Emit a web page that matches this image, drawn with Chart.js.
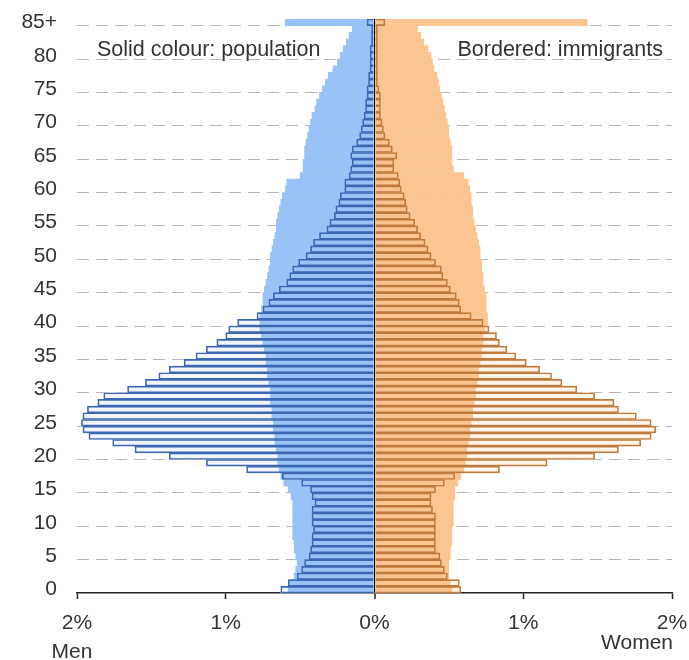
<!DOCTYPE html>
<html>
<head>
<meta charset="utf-8">
<script src="https://cdn.jsdelivr.net/npm/chart.js@4.4.1/dist/chart.umd.min.js"></script>
<style>
  body { margin: 0; background: #fff; }
  #wrap { width: 689px; height: 660px; }
</style>
</head>
<body>
<div id="wrap"><canvas id="myChart" width="689" height="660"></canvas></div>
<script>
// ages 0..84 then 85+
const ages = Array.from({ length: 85 }, (_, i) => String(i)).concat(['85+']);

// share of total, in %, index = age
const menPopulation = [
    0.58, 0.57, 0.54, 0.53, 0.52, 0.53, 0.54, 0.54, 0.55, 0.55,
    0.55, 0.55, 0.55, 0.55, 0.56, 0.58, 0.61, 0.63, 0.64, 0.65,
    0.65, 0.66, 0.67, 0.67, 0.68, 0.68, 0.69, 0.69, 0.70, 0.70,
    0.70, 0.71, 0.72, 0.72, 0.73, 0.73, 0.74, 0.75, 0.76, 0.77,
    0.77, 0.77, 0.76, 0.75, 0.75, 0.74, 0.73, 0.72, 0.71, 0.70,
    0.70, 0.69, 0.68, 0.67, 0.66, 0.66, 0.65, 0.64, 0.63, 0.62,
    0.60, 0.59, 0.50, 0.48, 0.48, 0.47, 0.47, 0.46, 0.45, 0.44,
    0.43, 0.42, 0.40, 0.39, 0.37, 0.35, 0.33, 0.31, 0.28, 0.25,
    0.23, 0.21, 0.19, 0.17, 0.15, 0.60
];
const menImmigrants = [
    0.63, 0.58, 0.52, 0.49, 0.47, 0.44, 0.43, 0.42, 0.42, 0.41,
    0.42, 0.42, 0.42, 0.40, 0.42, 0.43, 0.49, 0.62, 0.86, 1.13,
    1.38, 1.61, 1.76, 1.92, 1.96, 1.97, 1.96, 1.93, 1.86, 1.82,
    1.66, 1.54, 1.45, 1.38, 1.28, 1.20, 1.13, 1.06, 1.00, 0.98,
    0.92, 0.79, 0.75, 0.71, 0.68, 0.64, 0.59, 0.57, 0.55, 0.51,
    0.46, 0.43, 0.41, 0.37, 0.32, 0.30, 0.27, 0.26, 0.24, 0.23,
    0.20, 0.20, 0.17, 0.16, 0.15, 0.16, 0.15, 0.12, 0.10, 0.09,
    0.08, 0.07, 0.06, 0.06, 0.05, 0.05, 0.04, 0.04, 0.03, 0.03,
    0.03, 0.03, 0.02, 0.02, 0.02, 0.05
];
const womenPopulation = [
    0.52, 0.51, 0.50, 0.50, 0.50, 0.51, 0.51, 0.52, 0.52, 0.52,
    0.53, 0.53, 0.53, 0.53, 0.54, 0.54, 0.56, 0.58, 0.60, 0.61,
    0.62, 0.62, 0.63, 0.64, 0.64, 0.65, 0.66, 0.66, 0.67, 0.68,
    0.68, 0.69, 0.70, 0.70, 0.71, 0.72, 0.72, 0.73, 0.73, 0.74,
    0.76, 0.76, 0.75, 0.75, 0.75, 0.74, 0.73, 0.73, 0.72, 0.72,
    0.71, 0.71, 0.70, 0.69, 0.68, 0.67, 0.66, 0.66, 0.65, 0.65,
    0.64, 0.63, 0.60, 0.53, 0.52, 0.52, 0.52, 0.51, 0.50, 0.50,
    0.49, 0.48, 0.47, 0.46, 0.45, 0.44, 0.43, 0.42, 0.40, 0.39,
    0.38, 0.36, 0.33, 0.31, 0.29, 1.43
];
const womenImmigrants = [
    0.58, 0.57, 0.49, 0.47, 0.45, 0.44, 0.41, 0.41, 0.41, 0.41,
    0.41, 0.41, 0.39, 0.38, 0.38, 0.41, 0.47, 0.54, 0.84, 1.16,
    1.48, 1.64, 1.79, 1.86, 1.89, 1.86, 1.76, 1.64, 1.61, 1.48,
    1.36, 1.26, 1.19, 1.11, 1.02, 0.95, 0.89, 0.84, 0.82, 0.77,
    0.73, 0.65, 0.58, 0.57, 0.55, 0.51, 0.49, 0.46, 0.45, 0.41,
    0.38, 0.36, 0.34, 0.31, 0.29, 0.27, 0.24, 0.22, 0.21, 0.20,
    0.18, 0.17, 0.16, 0.13, 0.13, 0.15, 0.12, 0.10, 0.07, 0.06,
    0.05, 0.04, 0.04, 0.04, 0.04, 0.03, 0.02, 0.02, 0.02, 0.02,
    0.02, 0.02, 0.02, 0.02, 0.02, 0.07
];
const xTicks = [-2, -1, 0, 1, 2];

const FONT = "'Liberation Sans', Arial, sans-serif";
const TEXT = '#333';

const neg = arr => arr.map(v => -v);

const notes = {
    id: 'notes',
    afterDraw(chart) {
        const c = chart.ctx;
        c.save();
        c.fillStyle = TEXT;
        c.font = '21.5px ' + FONT;
        c.textBaseline = 'alphabetic';
        c.textAlign = 'left';
        c.fillText('Solid colour: population', 97, 56);
        c.textAlign = 'right';
        c.fillText('Bordered: immigrants', 663, 56);
        c.font = '21px ' + FONT;
        c.fillText('Women', 673, 649);
        c.textAlign = 'center';
        c.fillText('Men', 72, 658);
        c.restore();
    }
};

const ctx = document.getElementById('myChart');
const myChart = new Chart(ctx, {
    type: 'bar',
    data: {
        labels: ages,
        datasets: [
            // immigrant outline on top
            { data: neg(menImmigrants), backgroundColor: 'rgba(0,0,0,0)', borderColor: '#3b67b3', borderWidth: 1, order: 0 },
            { data: womenImmigrants, backgroundColor: 'rgba(0,0,0,0)', borderColor: '#c07a3c', borderWidth: 1, order: 0 },
            // whole population, solid
            { data: neg(menPopulation), backgroundColor: '#99c3f7', borderWidth: 0, order: 1 },
            { data: womenPopulation, backgroundColor: '#fbc592', borderWidth: 0, order: 1 },
            // pale fill of the immigrant bars, underneath
            { data: neg(menImmigrants), backgroundColor: '#f1f6fe', borderWidth: 0, order: 2 },
            { data: womenImmigrants, backgroundColor: '#fff4e8', borderWidth: 0, order: 2 }
        ]
    },
    options: {
        indexAxis: 'y',
        responsive: false,
        animation: false,
        layout: { padding: { left: 0, right: 17, top: 19, bottom: 0 } },
        datasets: {
            bar: { grouped: false, barPercentage: 1, categoryPercentage: 1 }
        },
        plugins: {
            legend: { display: false },
            tooltip: { enabled: false }
        },
        scales: {
            x: {
                min: -2,
                max: 2,
                z: 1,
                afterBuildTicks: scale => { scale.ticks = xTicks.map(v => ({ value: v })); },
                afterFit: scale => {
                    scale.height = 67;
                    scale.paddingLeft = 0;
                    scale.paddingRight = 0;
                },
                ticks: {
                    callback: v => Math.abs(v) + '%',
                    color: TEXT,
                    font: { family: FONT, size: 21 },
                    padding: 12,
                    maxRotation: 0
                },
                grid: {
                    color: c => (c.tick && c.tick.value === 0) ? '#111' : 'rgba(0,0,0,0)',
                    lineWidth: c => (c.tick && c.tick.value === 0) ? 2 : 1,
                    tickColor: '#222',
                    tickLength: 6,
                    tickWidth: 1.5
                },
                border: { display: true, color: '#222', width: 1.5 }
            },
            y: {
                reverse: true,
                afterFit: scale => {
                    scale.width = 77;
                    scale.paddingTop = 0;
                    scale.paddingBottom = 0;
                },
                ticks: {
                    autoSkip: false,
                    callback: (v, i) => i % 5 === 0 ? ages[i] : '',
                    color: TEXT,
                    font: { family: FONT, size: 21 },
                    padding: 20
                },
                grid: {
                    offset: true,
                    drawTicks: false,
                    color: c => (c.index > 0 && c.index % 5 === 0 && c.index <= 85) ? '#b5b5b5' : 'rgba(0,0,0,0)',
                    lineWidth: 1
                },
                border: { display: false, dash: [12, 7] }
            }
        }
    },
    plugins: [notes]
});
</script>
</body>
</html>
